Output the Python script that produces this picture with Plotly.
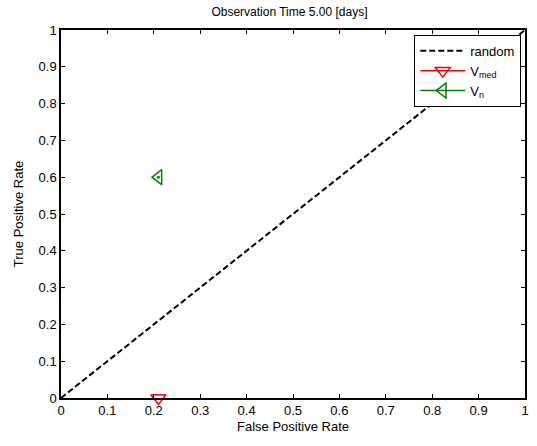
import plotly.graph_objects as go

random_x = [0, 1]
random_y = [0, 1]
vmed_x = [0.21]
vmed_y = [0.0]
vn_x = [0.21]
vn_y = [0.60]
ticks = [0, 0.1, 0.2, 0.3, 0.4, 0.5, 0.6, 0.7, 0.8, 0.9, 1]
tick_labels = ["0", "0.1", "0.2", "0.3", "0.4", "0.5", "0.6", "0.7", "0.8", "0.9", "1"]

FONT = "Liberation Sans, Arial"

fig = go.Figure()
fig.add_trace(go.Scatter(x=random_x, y=random_y, mode="lines", name="random",
                         line=dict(color="black", dash="6px,3px", width=2)))
fig.add_trace(go.Scatter(x=vmed_x, y=vmed_y, mode="lines+markers", name="V<sub>med</sub>",
                         line=dict(color="red", width=1.5),
                         marker=dict(symbol="triangle-down-open", size=13, color="red",
                                     line=dict(width=1.5, color="red")),
                         cliponaxis=False))
fig.add_trace(go.Scatter(x=vn_x, y=vn_y, mode="lines+markers", name="V<sub>n</sub>",
                         line=dict(color="green", width=1.5),
                         marker=dict(symbol="triangle-left-open", size=13, color="green",
                                     line=dict(width=1.5, color="green"))))
fig.add_trace(go.Scatter(x=vn_x, y=vn_y, mode="markers", showlegend=False,
                         marker=dict(symbol="circle", size=3, color="green")))

axis_common = dict(range=[0, 1], tickvals=ticks, ticktext=tick_labels,
                   ticks="inside", ticklen=4, tickcolor="black",
                   showline=True, linecolor="black", linewidth=1.5, mirror="ticks",
                   showgrid=False, zeroline=False,
                   tickfont=dict(family=FONT, size=13, color="black"))

fig.update_xaxes(**axis_common,
                 title=dict(text="False Positive Rate", standoff=5,
                            font=dict(family=FONT, size=13, color="black")))
fig.update_yaxes(**axis_common,
                 title=dict(text="True Positive Rate", standoff=12,
                            font=dict(family=FONT, size=13, color="black")))

fig.update_layout(
    width=537, height=446,
    margin=dict(l=61, r=8, t=30, b=48),
    paper_bgcolor="white", plot_bgcolor="white",
    title=dict(text="Observation Time 5.00 [days]", x=0.539, xanchor="center",
               y=1 - 12 / 446, yanchor="middle",
               font=dict(family=FONT, size=12, color="black")),
    legend=dict(x=0.992, xanchor="right", y=0.987, yanchor="top",
                bgcolor="white", bordercolor="black", borderwidth=1,
                font=dict(family=FONT, size=13, color="black"),
                tracegroupgap=0, itemwidth=45),
    showlegend=True,
)

fig.write_html("out.html")
